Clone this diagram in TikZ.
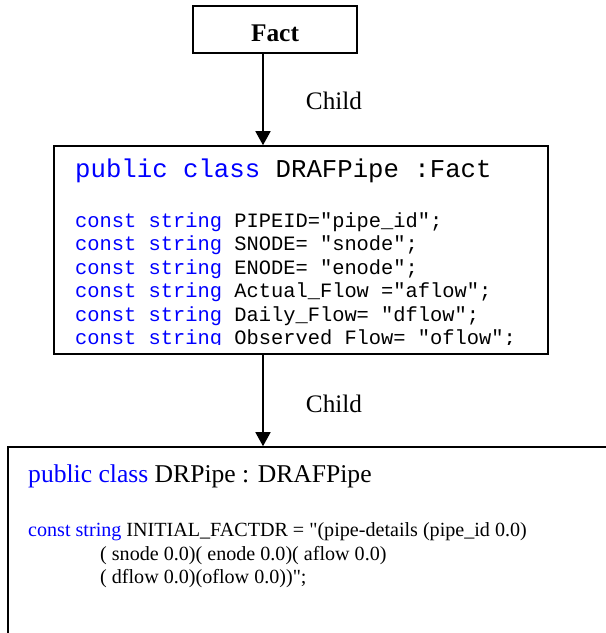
\documentclass[tikz,border=0pt]{standalone}
\usepackage{fontspec}
\setmainfont{Liberation Serif}[Ligatures=TeXOff]
\setmonofont{Liberation Mono}
\usetikzlibrary{arrows.meta}
\definecolor{kw}{RGB}{0,0,255}
\tikzset{
  boxstyle/.style={draw, line width=1.6pt, inner sep=0pt, fill=none},
  txt/.style={anchor=base west, inner sep=0pt},
  arr/.style={line width=1.6pt, -{Triangle[width=15pt,length=14pt]}},
  lbl/.style={anchor=base, inner sep=0pt, font=\fontsize{25.2}{30}\selectfont},
  monobig/.style={font=\ttfamily\fontsize{25.7}{30}\selectfont},
  monosmall/.style={font=\ttfamily\fontsize{20.4}{24}\selectfont},
  serbig/.style={font=\fontsize{25.6}{30}\selectfont},
  sersmall/.style={font=\fontsize{20.1}{24}\selectfont}
}
\begin{document}
\begin{tikzpicture}[x=1pt,y=-1pt]
\useasboundingbox (0,0) rectangle (606,633);
% boxes
\node[boxstyle, minimum width=164pt, minimum height=47pt] (fact) at (275,29.5) {};
\node[anchor=base, inner sep=0pt, font=\bfseries\fontsize{25.4}{30}\selectfont] (facttxt) at (275,41) {Fact};
\node[boxstyle, minimum width=494pt, minimum height=208pt] (drafpipe) at (301,250) {};
\node[boxstyle, minimum width=792pt, minimum height=353pt] (drpipe) at (404,623.5) {};
% connectors
\coordinate (ax) at (263,0);
\draw[arr] (ax |- fact.south) -- (ax |- drafpipe.north);
\draw[arr] (ax |- drafpipe.south) -- (ax |- drpipe.north);
\node[lbl] (child1) at (334,109) {Child};
\node[lbl] (child2) at (334,412) {Child};
% DRAFPipe text
\begin{scope}
\clip (54,146) rectangle (548,344.5);
\node[txt, monobig] (t0) at (75,177) {\textcolor{kw}{public class} DRAFPipe :Fact};
\node[txt, monosmall] (t1) at (75,227) {\textcolor{kw}{const string} PIPEID="pipe\_id";};
\node[txt, monosmall] (t2) at (75,250.5) {\textcolor{kw}{const string} SNODE= "snode";};
\node[txt, monosmall] (t3) at (75,274) {\textcolor{kw}{const string} ENODE= "enode";};
\node[txt, monosmall] (t4) at (75,297.5) {\textcolor{kw}{const string} Actual\_Flow ="aflow";};
\node[txt, monosmall] (t5) at (75,321) {\textcolor{kw}{const string} Daily\_Flow= "dflow";};
\node[txt, monosmall] (t6) at (75,344.5) {\textcolor{kw}{const string} Observed\_Flow= "oflow";};
\end{scope}
% DRPipe text
\node[txt, serbig] (s0) at (28,482) {\textcolor{kw}{public class} DRPipe : DRAFPipe};
\node[txt, sersmall] (s1) at (28,536) {\textcolor{kw}{const string} INITIAL\_FACTDR = "(pipe-details (pipe\_id 0.0)};
\node[txt, sersmall] (s2) at (100,560) {( snode 0.0)( enode 0.0)( aflow 0.0)};
\node[txt, sersmall] (s3) at (100,583) {( dflow 0.0)(oflow 0.0))";};
\end{tikzpicture}
\end{document}
